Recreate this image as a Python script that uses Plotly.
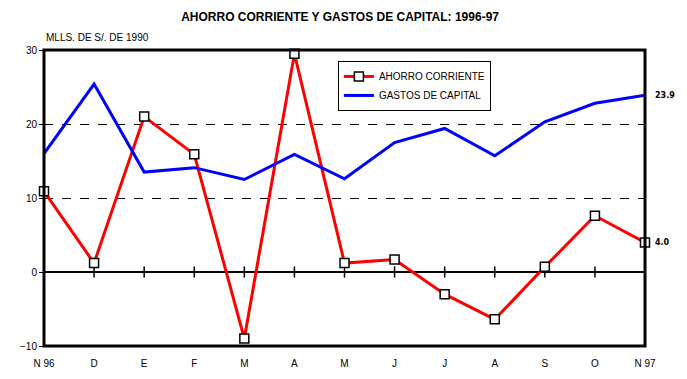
import plotly.graph_objects as go

months = ["N 96", "D", "E", "F", "M", "A", "M", "J", "J", "A", "S", "O", "N 97"]
ahorro = [10.9, 1.2, 21.0, 15.9, -9.0, 29.5, 1.2, 1.7, -3.0, -6.4, 0.7, 7.6, 4.0]
gastos = [16.0, 25.4, 13.5, 14.1, 12.5, 15.9, 12.6, 17.5, 19.4, 15.7, 20.3, 22.8, 23.9]
y_ticks = [-10, 0, 10, 20, 30]

xs = list(range(len(months)))
FONT = "Liberation Sans, Arial, sans-serif"

fig = go.Figure()
fig.add_trace(go.Scatter(
    x=xs, y=[0] * len(xs), mode="markers", showlegend=False, hoverinfo="skip",
    marker=dict(symbol="line-ns-open", size=8, color="black", line=dict(color="black", width=1.5)),
    cliponaxis=False,
))
fig.add_trace(go.Scatter(
    x=xs, y=ahorro, name="AHORRO CORRIENTE", mode="lines+markers",
    line=dict(color="#ff0000", width=3),
    marker=dict(symbol="square", size=9, color="white", line=dict(color="black", width=1.5)),
    cliponaxis=False,
))
fig.add_trace(go.Scatter(
    x=xs, y=gastos, name="GASTOS DE CAPITAL", mode="lines",
    line=dict(color="#0000ff", width=3),
    cliponaxis=False,
))

fig.add_annotation(x=xs[-1], y=gastos[-1], text=f"{gastos[-1]:.1f}", showarrow=False,
                   xanchor="left", xshift=8, font=dict(family="DejaVu Sans, sans-serif", size=8, color="black", weight="bold"))
fig.add_annotation(x=xs[-1], y=ahorro[-1], text=f"{ahorro[-1]:.1f}", showarrow=False,
                   xanchor="left", xshift=8, font=dict(family="DejaVu Sans, sans-serif", size=8, color="black", weight="bold"))
fig.add_annotation(x=0, y=1.0, xref="paper", yref="paper", yshift=5, text="MLLS. DE S/. DE 1990",
                   showarrow=False, xanchor="left", yanchor="bottom",
                   font=dict(family=FONT, size=10, color="black"))

fig.add_shape(type="rect", xref="paper", yref="paper", x0=0, x1=1, y0=0, y1=1,
              line=dict(color="black", width=3), layer="above")

fig.update_layout(
    width=687, height=379,
    margin=dict(l=44, r=42, t=50, b=33, autoexpand=False),
    paper_bgcolor="white", plot_bgcolor="white",
    title=dict(text="<b>AHORRO CORRIENTE Y GASTOS DE CAPITAL: 1996-97</b>", x=0.495, xanchor="center",
               y=0.955, yanchor="middle", font=dict(family=FONT, size=12, color="black")),
    showlegend=True,
    legend=dict(x=0.489, y=0.963, xanchor="left", yanchor="top", bgcolor="white",
                bordercolor="black", borderwidth=1, font=dict(family=FONT, size=10, color="black"),
                tracegroupgap=0, itemwidth=30),
    font=dict(family=FONT, size=10, color="black"),
)
fig.update_xaxes(range=[0, 12], tickvals=xs, ticktext=months, showgrid=False, zeroline=False,
                 showline=False, ticks="", ticklabelstandoff=10, tickfont=dict(size=10))
fig.update_yaxes(range=[-10, 30], tickvals=y_ticks, showgrid=True, gridcolor="black", griddash="dash",
                 gridwidth=1, zeroline=True, zerolinecolor="black", zerolinewidth=2,
                 showline=False, ticks="outside", ticklen=4, tickcolor="black", tickfont=dict(size=10))

fig.write_html("out.html", config={"displayModeBar": False},
               post_script="document.body.style.margin='0';document.body.style.overflow='hidden';")
